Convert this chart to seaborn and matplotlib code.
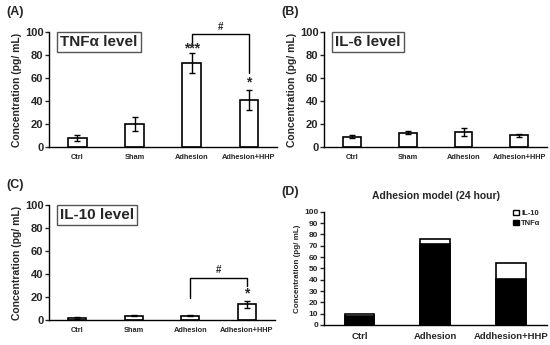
import matplotlib
matplotlib.use("Agg")
import matplotlib.pyplot as plt
import seaborn as sns
import numpy as np
import pandas as pd
from matplotlib.patches import Patch

sns.set_style("white")
plt.rcParams['font.family'] = ['Liberation Sans', 'DejaVu Sans']
plt.rcParams['font.weight'] = 'bold'

groups = ["Ctrl", "Sham", "Adhesion", "Adhesion+HHP"]
tnf_mean = [7.5, 20, 73, 41]
tnf_err = [2.5, 6, 9, 8.5]
il6_mean = [9, 12.5, 13, 10]
il6_err = [1, 1.5, 3.5, 1]
il10_mean = [2, 4, 4, 14]
il10_err = [0.6, 0.8, 0.5, 3]

d_groups = ["Ctrl", "Adhesion", "Addhesion+HHP"]
d_tnf = [8, 72, 41]
d_il10 = [2, 4, 14]

fig = plt.figure(figsize=(5.5, 3.45), dpi=100)
axA = fig.add_axes([0.089, 0.574, 0.415, 0.333])
axB = fig.add_axes([0.589, 0.574, 0.406, 0.333])
axC = fig.add_axes([0.089, 0.072, 0.411, 0.333])
axD = fig.add_axes([0.589, 0.058, 0.406, 0.328])

def panel(ax, means, errs, title):
    df = pd.DataFrame({"g": groups, "v": means})
    sns.barplot(data=df, x="g", y="v", ax=ax, color="white", edgecolor="black",
                linewidth=1.2, width=0.32, errorbar=None)
    ax.errorbar(range(len(groups)), means, yerr=errs, fmt="none", ecolor="black",
                elinewidth=1.0, capsize=2.5, capthick=1.0)
    ax.set_xlim(-0.5, 3.5)
    ax.set_ylim(0, 100)
    ax.set_yticks([0, 20, 40, 60, 80, 100])
    ax.set_xlabel("")
    ax.set_ylabel("Concentration (pg/ mL)", fontsize=7.5, fontweight="bold", labelpad=2)
    ax.tick_params(axis="y", labelsize=8, length=3, width=1, pad=1, direction="out", left=True)
    ax.tick_params(axis="x", labelsize=5.3, length=0, pad=5)
    for lbl in ax.get_xticklabels() + ax.get_yticklabels():
        lbl.set_fontweight("bold")
    sns.despine(ax=ax)
    for s in ["left", "bottom"]:
        ax.spines[s].set_linewidth(1.0)
        ax.spines[s].set_color("black")
    ax.text(0.05, 0.975, title, transform=ax.transAxes, fontsize=11, fontweight="bold",
            va="top", ha="left",
            bbox=dict(boxstyle="square,pad=0.2", facecolor="white", edgecolor="#555555", linewidth=1))

panel(axA, tnf_mean, tnf_err, "TNFα level")
panel(axB, il6_mean, il6_err, "IL-6 level")
panel(axC, il10_mean, il10_err, "IL-10 level")

# annotations A
axA.plot([2, 2, 3, 3], [90, 98, 98, 64], color="black", lw=1.0, clip_on=False)
axA.text(2.5, 100, "#", ha="center", va="bottom", fontsize=7, fontweight="bold")
axA.text(2, 86, "***", ha="center", va="center", fontsize=10, fontweight="bold")
axA.text(3, 56, "*", ha="center", va="center", fontsize=10, fontweight="bold")

# annotations C
axC.plot([2, 2, 3, 3], [19, 37, 37, 30], color="black", lw=1.0, clip_on=False)
axC.text(2.5, 39, "#", ha="center", va="bottom", fontsize=7, fontweight="bold")
axC.text(3, 23, "*", ha="center", va="center", fontsize=10, fontweight="bold")

# panel D
total = [a + b for a, b in zip(d_tnf, d_il10)]
dfT = pd.DataFrame({"g": d_groups, "v": total})
dfN = pd.DataFrame({"g": d_groups, "v": d_tnf})
sns.barplot(data=dfT, x="g", y="v", ax=axD, color="white", edgecolor="black",
            linewidth=1.2, width=0.39, errorbar=None)
sns.barplot(data=dfN, x="g", y="v", ax=axD, color="black", edgecolor="black",
            linewidth=1.2, width=0.39, errorbar=None)
axD.set_xlim(-0.47, 2.48)
axD.set_ylim(0, 100)
axD.set_yticks(range(0, 101, 10))
axD.set_xlabel("")
axD.set_ylabel("Concentration (pg/ mL)", fontsize=5.8, fontweight="bold", labelpad=2)
axD.tick_params(axis="y", labelsize=6, length=3, width=1, pad=1, left=True)
axD.tick_params(axis="x", labelsize=6.8, length=0, pad=5)
for lbl in axD.get_xticklabels() + axD.get_yticklabels():
    lbl.set_fontweight("bold")
sns.despine(ax=axD)
for s in ["left", "bottom"]:
    axD.spines[s].set_linewidth(1.0)
    axD.spines[s].set_color("black")
axD.set_title("Adhesion model (24 hour)", fontsize=7.5, fontweight="bold", pad=9)
handles = [Patch(facecolor="white", edgecolor="black", label="IL-10"),
           Patch(facecolor="black", edgecolor="black", label="TNFα")]
axD.legend(handles=handles, loc="upper right", bbox_to_anchor=(1.0, 1.08), frameon=False,
           prop={"size": 5.5, "weight": "bold"}, handlelength=0.8, handleheight=0.8,
           handletextpad=0.2, labelspacing=0.3)

# panel letters
fig.text(0.012, 0.965, "(A)", fontsize=9, fontweight="bold", va="center")
fig.text(0.512, 0.965, "(B)", fontsize=9, fontweight="bold", va="center")
fig.text(0.012, 0.464, "(C)", fontsize=9, fontweight="bold", va="center")
fig.text(0.512, 0.443, "(D)", fontsize=9, fontweight="bold", va="center")

fig.savefig("out.png", dpi=100)
